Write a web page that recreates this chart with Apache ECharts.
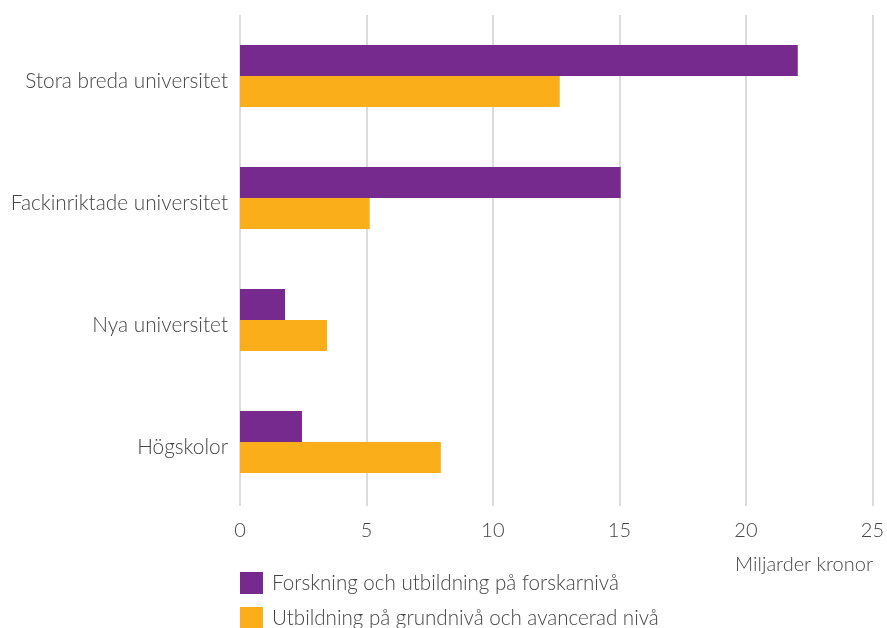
<!DOCTYPE html>
<html>
<head>
<meta charset="UTF-8">
<title>Miljarder kronor</title>
<script src="https://cdn.jsdelivr.net/npm/echarts@6/dist/echarts.min.js"></script>
<style>
  html, body { margin: 0; padding: 0; background: #fff; }
  #chart { width: 887px; height: 628px; }
</style>
</head>
<body>
<div id="chart"></div>
<script>
// data
var categories = ['Stora breda universitet', 'Fackinriktade universitet', 'Nya universitet', 'Högskolor'];
var seriesNames = ['Forskning och utbildning på forskarnivå', 'Utbildning på grundnivå och avancerad nivå'];
var forskning = [22.05, 15.05, 1.78, 2.45];
var utbildning = [12.64, 5.13, 3.44, 7.94];
var xTicks = [0, 5, 10, 15, 20, 25];

var textColor = '#444';
var font = 'Lato';

var chart = echarts.init(document.getElementById('chart'));

// en legend per rad, annars bryts de till kolumner
function legendRow(name, top) {
  return {
    left: 240,
    top: top,
    padding: 0,
    itemWidth: 23,
    itemHeight: 22,
    icon: 'rect',
    data: [name],
    textStyle: { fontFamily: font, fontSize: 20.6, fontWeight: 300, color: textColor, padding: [0, 0, 0, 4] }
  };
}

var option = {
  animation: false,
  grid: { left: 240, right: 14, top: 15, bottom: 125 },
  legend: [legendRow(seriesNames[0], 572), legendRow(seriesNames[1], 607)],
  xAxis: {
    type: 'value',
    min: xTicks[0],
    max: xTicks[xTicks.length - 1],
    interval: 5,
    axisLine: { show: false },
    axisTick: { show: true, length: 3, lineStyle: { color: '#d0d0d0', width: 1.5 } },
    splitLine: { show: true, lineStyle: { color: '#d0d0d0', width: 1.5 } },
    axisLabel: { margin: 18, fontFamily: font, fontSize: 20, fontWeight: 300, color: textColor }
  },
  yAxis: {
    type: 'category',
    inverse: true,
    data: categories,
    axisLine: { show: false },
    axisTick: { show: false },
    axisLabel: {
      margin: 12, verticalAlign: 'top', lineHeight: 10,
      fontFamily: font, fontSize: 20.8, fontWeight: 300, color: textColor
    }
  },
  graphic: [{
    type: 'text',
    right: 14,
    top: 555,
    style: { text: 'Miljarder kronor', fontFamily: font, fontSize: 20, fontWeight: 300, fill: textColor }
  }],
  series: [{
    name: seriesNames[0],
    type: 'bar',
    data: forskning,
    barWidth: 31,
    barGap: '0%',
    itemStyle: { color: '#772A8D' }
  }, {
    name: seriesNames[1],
    type: 'bar',
    data: utbildning,
    barWidth: 31,
    itemStyle: { color: '#F9AE1A' }
  }]
};

chart.setOption(option);
</script>
</body>
</html>
